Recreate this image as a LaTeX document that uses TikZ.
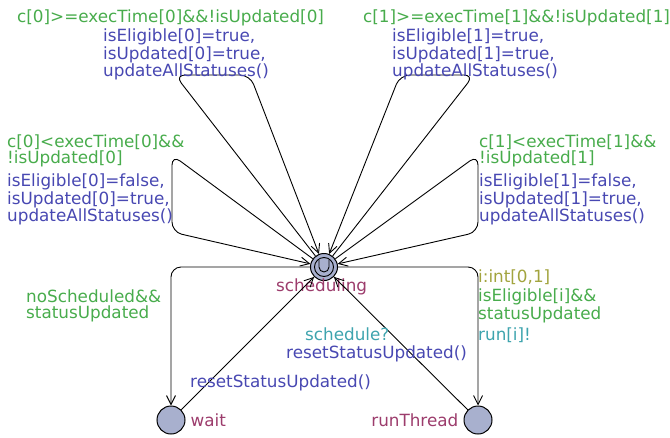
\documentclass[tikz,border=0pt]{standalone}
\usepackage{fontspec}
\setmainfont{DejaVu Sans}
\usepackage{tikz}
\usetikzlibrary{positioning, arrows.meta}
\definecolor{locfill}{RGB}{168,176,206}
\definecolor{guardcol}{RGB}{72,172,76}
\definecolor{assigncol}{RGB}{72,72,178}
\definecolor{synccol}{RGB}{62,164,174}
\definecolor{selectcol}{RGB}{162,164,62}
\definecolor{namecol}{RGB}{156,60,108}
\tikzset{location/.style={
        draw,
        circle,
        line width=1pt,
        inner sep=0pt,
        minimum size=28pt,
        fill=locfill
}}
\tikzset{transition/.style={draw,line width=0.9pt,rounded corners=10pt,-{Straight Barb[length=9pt,width=9pt]}}}
\tikzset{lbl/.style={inner sep=0pt, anchor=north west, align=left, font=\fontsize{16.8}{15.5}\selectfont}}
\tikzset{guard/.style={lbl, text=guardcol}}
\tikzset{assign/.style={lbl, text=assigncol}}
\tikzset{sync/.style={lbl, text=synccol}}
\tikzset{select/.style={lbl, text=selectcol}}
\tikzset{locname/.style={lbl, text=namecol}}
\begin{document}
\begin{tikzpicture}[x=1pt,y=-1pt]
\useasboundingbox (0,0) rectangle (670,437);
% locations
\node[location, minimum size=27pt] (sched) at (324,267) {};
\node[location] (wait) at (171,420) {};
\node[location] (run) at (478,420) {};
\draw[line width=0.9pt] (sched) circle[radius=9.5];
\draw[line width=0.9pt, shift={(sched)}] (-5,-7) -- (-5,0) arc[start angle=180, end angle=0, radius=5] -- (5,-7);
\node[locname] (schedname) at (276,279) {scheduling};
\node[locname, right=5pt of wait.east, anchor=west] (waitname) {wait};
\node[locname, left=5pt of run.west, anchor=east] (runname) {runThread};

% loop corners
\coordinate (tla) at (175,75);
\coordinate (tlb) at (250,75);
\coordinate (tra) at (474,75);
\coordinate (trb) at (400,75);
\coordinate (lma) at (172,155);
\coordinate (lmb) at (172,232);
\coordinate (rma) at (478,155);
\coordinate (rmb) at (478,232);
\coordinate (wcorner) at (171,267);
\coordinate (rcorner) at (478,267);

% transitions
\draw[transition] (sched) -- (tla) -- (tlb) -- (sched);
\draw[transition] (sched) -- (tra) -- (trb) -- (sched);
\draw[transition] (sched) -- (lma) -- (lmb) -- (sched);
\draw[transition] (sched) -- (rma) -- (rmb) -- (sched);
\draw[transition] (sched) -- (wcorner) -- (wait);
\draw[transition] (wait) -- (sched);
\draw[transition] (sched) -- (rcorner) -- (run);
\draw[transition] (run) -- (sched);

% labels
\node[guard] (g0) at (17,10) {c[0]>=execTime[0]\&\&!isUpdated[0]};
\node[assign] (a0) at (103,29) {isEligible[0]=true,\\isUpdated[0]=true,\\updateAllStatuses()};
\node[guard] (g1) at (363,10) {c[1]>=execTime[1]\&\&!isUpdated[1]};
\node[assign] (a1) at (392,29) {isEligible[1]=true,\\isUpdated[1]=true,\\updateAllStatuses()};
\node[guard] (g2) at (7,135) {c[0]<execTime[0]\&\&\\!isUpdated[0]};
\node[assign] (a2) at (7,174) {isEligible[0]=false,\\isUpdated[0]=true,\\updateAllStatuses()};
\node[guard] (g3) at (479,135) {c[1]<execTime[1]\&\&\\!isUpdated[1]};
\node[assign] (a3) at (479,174) {isEligible[1]=false,\\isUpdated[1]=true,\\updateAllStatuses()};
\node[guard] (gw) at (26,290) {noScheduled\&\&\\statusUpdated};
\node[assign] (aw) at (190,375) {resetStatusUpdated()};
\node[select] (sr) at (478,270) {i:int[0,1]};
\node[guard] (gr) at (478,289) {isEligible[i]\&\&\\statusUpdated};
\node[sync] (yr) at (478,328) {run[i]!};
\node[sync] (ys) at (305,328) {schedule?};
\node[assign] (as) at (286,346) {resetStatusUpdated()};
\end{tikzpicture}
\end{document}
